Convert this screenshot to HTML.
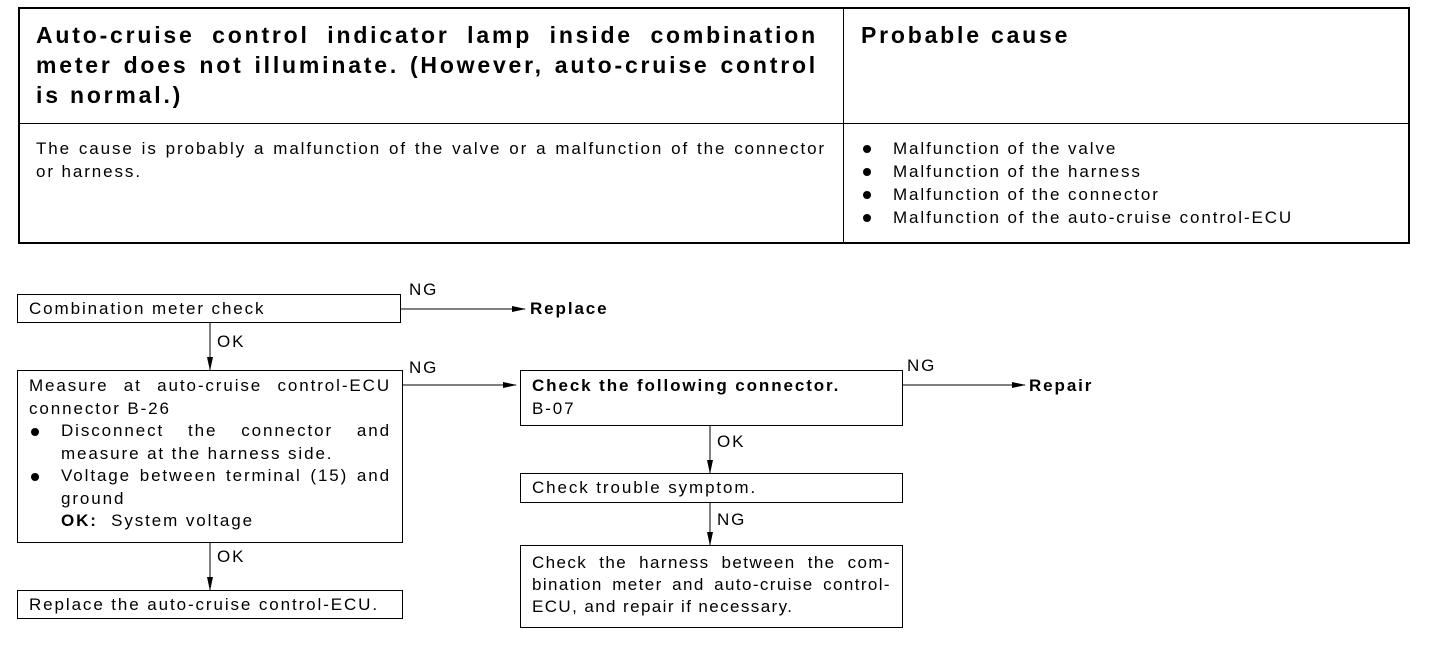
<!DOCTYPE html>
<html><head><style>
body{margin:0;width:1440px;height:652px;background:#fff;position:relative;font-family:"Liberation Sans",Arial,sans-serif;color:#000;overflow:hidden;letter-spacing:1.9px;font-size:17px}
.a{position:absolute}
.box{position:absolute;border:1px solid #000;box-sizing:border-box;font-size:17px;line-height:22.5px;padding:3px 11px;white-space:nowrap}
.h{font-weight:bold;font-size:23px;line-height:30px;letter-spacing:2.8px;white-space:nowrap}
.t{font-size:17px;line-height:23px;white-space:nowrap}
.j{display:block;text-align:justify;text-align-last:justify}
ul{margin:0;padding:0;list-style:none}
li{position:relative;padding-left:32px}
li:before{content:"";position:absolute;left:2px;top:8px;width:8px;height:8px;border-radius:50%;background:#000}
.lbl{position:absolute;font-size:17px}
</style></head><body>
<div class="a" style="left:18px;top:7px;width:1392px;height:237px;border:2px solid #000;box-sizing:border-box"></div>
<div class="a" style="left:843px;top:7px;width:1px;height:237px;background:#000"></div>
<div class="a" style="left:18px;top:123px;width:1392px;height:1px;background:#000"></div>
<div class="a h" style="left:36px;top:20px;width:782px"><span class="j">Auto-cruise control indicator lamp inside combination</span><span class="j">meter does not illuminate. (However, auto-cruise control</span>is normal.)</div>
<div class="a h" style="left:861px;top:20px">Probable cause</div>
<div class="a t" style="left:36px;top:137px;width:790px"><span class="j">The cause is probably a malfunction of the valve or a malfunction of the connector</span>or harness.</div>
<div class="a t" style="left:861px;top:137px"><ul><li>Malfunction of the valve</li><li>Malfunction of the harness</li><li>Malfunction of the connector</li><li>Malfunction of the auto-cruise control-ECU</li></ul></div>

<div class="box" style="left:17px;top:294px;width:384px;height:29px">Combination meter check</div>
<div class="box" style="left:17px;top:370px;width:386px;height:173px;padding-top:4px"><span class="j">Measure at auto-cruise control-ECU</span>connector B-26<ul><li><span class="j">Disconnect the connector and</span>measure at the harness side.</li><li><span class="j">Voltage between terminal (15) and</span>ground<br><b>OK:</b>&nbsp; System voltage</li></ul></div>
<div class="box" style="left:17px;top:590px;width:386px;height:29px">Replace the auto-cruise control-ECU.</div>
<div class="box" style="left:520px;top:370px;width:383px;height:56px;padding-top:4px"><b>Check the following connector.</b><br>B-07</div>
<div class="box" style="left:520px;top:473px;width:383px;height:30px">Check trouble symptom.</div>
<div class="box" style="left:520px;top:545px;width:383px;height:83px;padding-top:6px;line-height:22px;letter-spacing:1.4px"><span class="j">Check the harness between the com-</span><span class="j">bination meter and auto-cruise control-</span>ECU, and repair if necessary.</div>

<svg class="a" style="left:0;top:0" width="1440" height="652">
<defs><marker id="m" markerWidth="14" markerHeight="8" refX="13" refY="4" orient="auto" markerUnits="userSpaceOnUse"><path d="M0,1 L14,4 L0,7 Z"/></marker></defs>
<g stroke="#000" stroke-width="1" marker-end="url(#m)">
<line x1="401" y1="309" x2="525" y2="309"/>
<line x1="403" y1="385" x2="516" y2="385"/>
<line x1="903" y1="385" x2="1025" y2="385"/>
<line x1="210" y1="323" x2="210" y2="370"/>
<line x1="210" y1="543" x2="210" y2="590"/>
<line x1="710" y1="426" x2="710" y2="473"/>
<line x1="710" y1="503" x2="710" y2="545"/>
</g></svg>
<div class="lbl" style="left:409px;top:280px">NG</div>
<div class="lbl" style="left:530px;top:299px;font-weight:bold">Replace</div>
<div class="lbl" style="left:409px;top:358px">NG</div>
<div class="lbl" style="left:907px;top:356px">NG</div>
<div class="lbl" style="left:1029px;top:376px;font-weight:bold">Repair</div>
<div class="lbl" style="left:217px;top:332px">OK</div>
<div class="lbl" style="left:217px;top:547px">OK</div>
<div class="lbl" style="left:717px;top:432px">OK</div>
<div class="lbl" style="left:717px;top:510px">NG</div>
</body></html>
